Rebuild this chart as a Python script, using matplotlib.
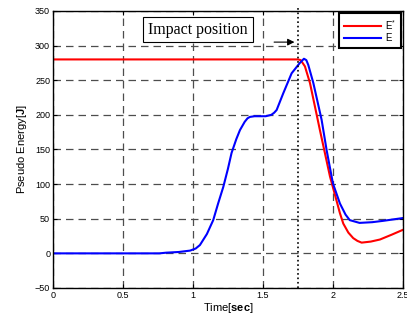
import matplotlib
matplotlib.use("Agg")
from matplotlib import pyplot as plt

plt.rcParams['font.family'] = ['Liberation Sans', 'DejaVu Sans']
plt.rcParams['mathtext.fontset'] = 'custom'
plt.rcParams['mathtext.bf'] = 'Liberation Sans:bold'
plt.rcParams['mathtext.rm'] = 'Liberation Sans'

# Pseudo energy E (blue)
t_E = [0, 0.5, 0.76, 0.81, 0.9, 0.98, 1.02, 1.05, 1.1, 1.145, 1.18, 1.217,
       1.25, 1.276, 1.31, 1.336, 1.37, 1.39, 1.407, 1.44, 1.479, 1.52, 1.56,
       1.58, 1.598, 1.645, 1.705, 1.764, 1.793, 1.81, 1.824, 1.86, 1.919,
       1.955, 2.0, 2.05, 2.09, 2.12, 2.19, 2.28, 2.36, 2.5]
E = [0, 0, 0, 1, 2, 4, 7, 12, 28, 48, 72, 96, 122, 145, 165, 178, 190, 195,
     197, 198, 198, 198, 200, 203, 207, 231, 260, 275, 281, 279, 272, 246,
     193, 149, 101, 72, 56, 48, 44, 45, 47, 51]

# Reference energy E* (red)
t_Es = [0, 1.75, 1.77, 1.80, 1.836, 1.907, 1.979, 2.05, 2.074, 2.11, 2.145,
        2.175, 2.205, 2.27, 2.336, 2.42, 2.5]
Es = [280, 280, 279, 270, 246, 178, 111, 58, 43, 30, 22, 18, 15.5, 17, 20,
      27, 34]

impact_time = 1.75
x_ticks = [0, 0.5, 1, 1.5, 2, 2.5]
x_labels = ['0', '0.5', '1', '1.5', '2', '2.5']
y_ticks = [-50, 0, 50, 100, 150, 200, 250, 300, 350]

fig = plt.figure(figsize=(4.07, 3.22), dpi=100)
ax = fig.add_axes([0.130, 0.1056, 0.860, 0.8604])

ax.plot(t_Es, Es, color='red', lw=1.5, label='E$^{*}$')
ax.plot(t_E, E, color='blue', lw=1.5, label='E')

ax.plot([impact_time, impact_time], [-50, 355], color='black', ls=':',
        lw=1.2, clip_on=False, zorder=3)

ax.set_xlim(0, 2.5)
ax.set_ylim(-50, 350)
ax.set_xticks(x_ticks)
ax.set_xticklabels(x_labels)
ax.set_yticks(y_ticks)
ax.tick_params(direction='in', top=True, right=True, length=3, labelsize=6.5,
               pad=2)
ax.grid(True, color='0.3', ls=(0, (6, 4)), lw=0.9)
for s in ax.spines.values():
    s.set_linewidth(1.0)

ax.set_xlabel('Time[$\\mathbf{sec}$]', fontsize=8, labelpad=1)
ax.set_ylabel('Pseudo Energy[$\\mathbf{J}$]', fontsize=8, labelpad=4)

ax.text(1.036, 323, 'Impact position', family='Liberation Serif',
        fontsize=11.5, ha='center', va='center',
        bbox=dict(boxstyle='square,pad=0.3', fc='white', ec='black', lw=0.8))
ax.annotate('', xy=(1.745, 305), xytext=(1.56, 305),
            arrowprops=dict(arrowstyle='-|>', color='black', lw=0.8,
                            mutation_scale=10))

leg = ax.legend(loc='upper right', fontsize=7, handlelength=3.8,
                fancybox=False, framealpha=1, borderaxespad=0.2,
                labelspacing=0.2, handletextpad=0.4, borderpad=0.5)
leg.get_frame().set_edgecolor('black')
leg.get_frame().set_linewidth(1.5)

fig.savefig('out.png', dpi=100)
